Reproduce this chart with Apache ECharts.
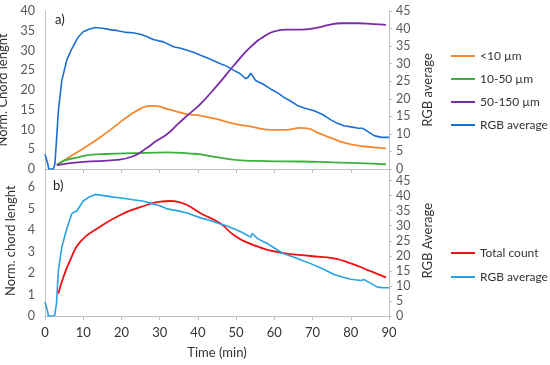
<!DOCTYPE html>
<html>
<head>
<meta charset="utf-8">
<script src="https://cdn.jsdelivr.net/npm/echarts@6/dist/echarts.min.js"></script>
<style>html,body{margin:0;padding:0;background:#fff}#c{width:550px;height:365px}</style>
</head>
<body>
<div id="c"></div>
<script>
// ---- Panel a) ----
const tOrange = [3.1, 7, 10, 14.4, 18, 21.4, 25, 27.6, 29.5, 31.9, 35, 37.2, 40.7, 45, 49.4, 54, 59, 63, 66.9, 69, 71.3, 75, 78.2, 82, 86, 89.2];
const vOrange = [1, 3.4, 5.2, 8, 10.6, 13.1, 15.3, 16, 15.9, 15.2, 14.4, 13.9, 13.5, 12.6, 11.5, 10.7, 9.9, 9.9, 10.4, 10.2, 9.2, 7.8, 6.7, 5.9, 5.5, 5.2];
const tGreen = [3.1, 5, 8.3, 11.8, 16, 23, 31.9, 38, 40.7, 45, 51.2, 58, 66.9, 75, 82, 89.2];
const vGreen = [1, 2.1, 2.9, 3.6, 3.8, 4.0, 4.2, 3.9, 3.7, 3.0, 2.2, 2.0, 1.9, 1.7, 1.5, 1.2];
const tPurple = [3.1, 10, 18.8, 23.2, 26.7, 29, 31.9, 35, 37.2, 40.7, 45, 49.4, 53.8, 58.2, 60.8, 63, 66.9, 71.3, 74, 77.4, 81.8, 86, 89.2];
const vPurple = [1, 1.8, 2.3, 3.3, 5.4, 7.0, 8.8, 11.6, 13.5, 16.5, 21.1, 26.2, 30.9, 34.1, 35.0, 35.3, 35.3, 35.8, 36.4, 36.9, 36.9, 36.7, 36.5];
const tRgbA = [0, 0.4, 0.6, 1, 2.2, 2.6, 3.0, 3.5, 4.4, 5.7, 6.8, 7.3, 7.6, 8.7, 10, 11.5, 13.1, 15, 17, 19, 21.4, 23, 24.9, 26.5, 28.3, 29.7, 31, 33.6, 35.5, 37.2, 39, 40.7, 43, 45.9, 47.5, 49.4, 51, 52.5, 53.2, 53.8, 54.5, 55.1, 57, 59, 61, 62.5, 64, 66, 68, 70.4, 72.5, 74.8, 76.5, 78.2, 80, 82, 83.1, 84, 86.1, 88, 90];
const vRgbA = [4.2, 4.2, 2, 0, 0, 1.5, 8, 16.6, 25.2, 31, 33.8, 34.8, 34.4, 37.6, 39.1, 39.8, 40.3, 40.1, 39.7, 39.4, 38.9, 38.8, 38.4, 37.8, 36.9, 36.5, 36.2, 34.8, 34.4, 33.8, 33.2, 32.4, 31.4, 30, 29.3, 28.1, 27.2, 25.7, 26.2, 27.3, 26.2, 25.2, 24.2, 22.8, 21.6, 20.4, 19.5, 18.1, 17.3, 16.6, 15.6, 14, 13, 12.3, 12.0, 11.6, 11.6, 11.0, 9.5, 9.0, 9.0];

// ---- Panel b) ----
const tRed = [3.5, 4.8, 6.6, 9.2, 14.4, 19.7, 24.9, 30.2, 32.8, 35, 37.2, 40.7, 45.9, 49.4, 54.6, 61.7, 69.5, 75.6, 80, 85, 89.2];
const vRed = [1.05, 1.8, 2.6, 3.45, 4.15, 4.7, 5.06, 5.32, 5.35, 5.3, 5.16, 4.78, 4.3, 3.77, 3.3, 2.95, 2.79, 2.68, 2.45, 2.1, 1.8];
const tRgbB = [0, 0.4, 0.6, 0.9, 2.5, 3.0, 3.5, 4.4, 5.7, 7, 7.6, 8.3, 10, 11.5, 13.1, 15.5, 17.9, 20, 23, 25.5, 27.6, 30, 31.9, 34.5, 37.2, 40.7, 43, 45.9, 47.5, 49.4, 51.5, 53.8, 54.2, 55.6, 58, 60, 62.5, 65, 67, 69.5, 72.5, 75.6, 78, 80, 82.7, 83.5, 85, 87, 88.5, 90];
const vRgbB = [4.6, 4.6, 2, 0, 0, 4, 15.2, 22.9, 29, 34, 34.5, 34.9, 38.2, 39.5, 40.4, 40.0, 39.5, 39.2, 38.6, 38.2, 37.5, 36.6, 35.6, 35.0, 34.2, 32.6, 31.8, 30.6, 30.0, 29, 27.8, 26.2, 27.5, 25.7, 24.2, 22.6, 20.7, 19.6, 18.6, 17.4, 15.8, 13.8, 12.9, 12.2, 11.8, 12.1, 11.0, 9.6, 9.4, 9.4];

const xTicks = [0, 10, 20, 30, 40, 50, 60, 70, 80, 90];

const pairs = (t, v) => t.map((x, i) => [x, v[i]]);
const FONT = 'Lato';
const GRAY = '#595959';
const AXC = '#BFBFBF';

const chart = echarts.init(document.getElementById('c'), null, {renderer: 'canvas'});

function xAxis(gi, showLabels) {
  return {
    type: 'value', gridIndex: gi, min: xTicks[0], max: xTicks[xTicks.length - 1], interval: 10,
    axisLine: {lineStyle: {color: AXC, width: 1}},
    axisTick: {show: true, length: 4, lineStyle: {color: AXC}},
    splitLine: {show: false},
    axisLabel: {show: showLabels, color: '#333', fontFamily: FONT, fontSize: 13, margin: 10},
    name: showLabels ? 'Time (min)' : '', nameLocation: 'middle', nameGap: 30,
    nameTextStyle: {color: '#333', fontFamily: FONT, fontSize: 13}
  };
}
function yAxis(gi, pos, max, interval, name, gap, hideMax) {
  return {
    type: 'value', gridIndex: gi, position: pos, min: 0, max: max, interval: interval,
    axisLine: {show: true, lineStyle: {color: AXC}},
    axisTick: {show: pos === 'right', length: 3, lineStyle: {color: AXC}},
    splitLine: {show: false},
    axisLabel: {color: GRAY, fontFamily: FONT, fontSize: 12.5, margin: pos === 'right' ? 7 : 10, showMaxLabel: !hideMax},
    name: name, nameLocation: 'middle', nameRotate: 90, nameGap: gap,
    nameTextStyle: {color: '#333', fontFamily: FONT, fontSize: 13}
  };
}
function line(name, data, xi, yi, color, smooth, w) {
  return {name: name, type: 'line', xAxisIndex: xi, yAxisIndex: yi, data: data, smooth: smooth,
    showSymbol: false, symbol: 'none', lineStyle: {color: color, width: w || 1.8}, itemStyle: {color: color}, z: 3};
}

chart.setOption({
  animation: false,
  backgroundColor: '#fff',
  grid: [
    {left: 45, right: 161, top: 11, height: 158, outerBoundsMode: 'none', containLabel: false},
    {left: 45, right: 161, top: 165.5, height: 150.5, outerBoundsMode: 'none', containLabel: false}
  ],
  xAxis: [xAxis(0, false), xAxis(1, true)],
  yAxis: [
    yAxis(0, 'left', 40, 5, 'Norm. Chord lenght', 26, false),
    yAxis(0, 'right', 45, 5, 'RGB average', 27, false),
    yAxis(1, 'left', 7, 1, 'Norm. chord lenght', 26, true),
    yAxis(1, 'right', 50, 5, 'RGB Average', 27, true)
  ],
  legend: [
    {data: ['<10 µm', '10-50 µm', '50-150 µm', 'RGB average'], orient: 'vertical', left: 446, top: 44,
      icon: 'rect', itemWidth: 24, itemHeight: 2, itemGap: 9, itemTextGap: 2,
      textStyle: {color: '#333', fontFamily: FONT, fontSize: 12, lineHeight: 14}},
    {data: ['Total count', 'RGB average '], orient: 'vertical', left: 446, top: 241,
      icon: 'rect', itemWidth: 24, itemHeight: 2, itemGap: 10, itemTextGap: 2,
      textStyle: {color: '#333', fontFamily: FONT, fontSize: 12, lineHeight: 14}}
  ],
  graphic: [
    {type: 'text', left: 55, top: 13, style: {text: 'a)', fill: '#222', font: '13px Lato'}},
    {type: 'text', left: 53, top: 179, style: {text: 'b)', fill: '#222', font: '13px Lato'}}
  ],
  series: [
    line('<10 µm', pairs(tOrange, vOrange), 0, 0, '#F7882F', true),
    line('10-50 µm', pairs(tGreen, vGreen), 0, 0, '#3DB03D', true),
    line('50-150 µm', pairs(tPurple, vPurple), 0, 0, '#7A2BA6', true),
    line('RGB average', pairs(tRgbA, vRgbA), 0, 1, '#1B6FD2', false, 1.6),
    line('Total count', pairs(tRed, vRed), 1, 2, '#F01010', true),
    line('RGB average ', pairs(tRgbB, vRgbB), 1, 3, '#27A2E3', false, 1.6)
  ]
});
</script>
</body>
</html>
